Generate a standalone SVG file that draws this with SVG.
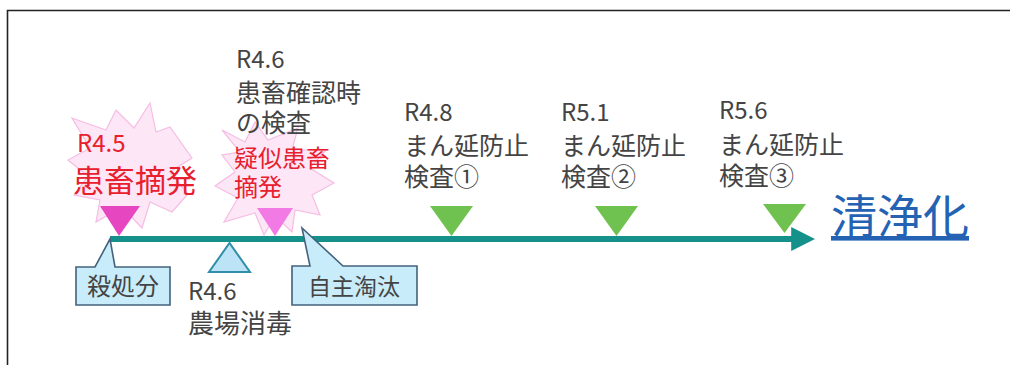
<svg xmlns="http://www.w3.org/2000/svg" width="1010" height="365" viewBox="0 0 1010 365">
<defs>
<style>
.t{font-family:"Noto Sans CJK JP","Noto Sans",sans-serif;fill:#444;font-size:25px}
.n{font-size:24px}
.r{fill:#e8202e}
.s23{font-size:23px}
.s24{font-size:24px}
.s26{font-size:26px}
.big{font-size:31px}
.star{fill:#fde6f6;stroke:#f5bde3;stroke-width:1.2}
.box{fill:#c9ecfa;stroke:#43627d;stroke-width:1.6}
.g{fill:#6fc24f}
.clean{font-size:46px;fill:#2463b4}
</style>
<marker id="ah" viewBox="0 0 10 10" refX="2" refY="5" markerWidth="4" markerHeight="4" orient="auto" markerUnits="strokeWidth"><path d="M0,0 L10,5 L0,10 Z" fill="#14918a"/></marker>
</defs>
<rect width="1010" height="365" fill="#fff"/>
<path d="M7.5,365 V10.5 H1010" fill="none" stroke="#222" stroke-width="1.6"/>
<g id="connectors">
<line x1="110" y1="239" x2="796" y2="239" stroke="#14918a" stroke-width="6" marker-end="url(#ah)"/>
</g>
<g id="burst1">
<polygon class="star" points="150,103 156,132 170,127 192,158 170,172 188,194 172,212 150,202 142,228 122,207 96,222 100,200 74,195 88,176 68,160 90,148 72,118 106,130 116,110 134,128"/>
<text class="t r n" x="77" y="152">R4.5</text>
<text class="t r big" x="73" y="192">患畜摘発</text>
<polygon points="100,206 140,206 119,236" fill="#e646bf"/>
</g>
<g id="burst2">
<polygon class="star" points="222,130 245,142 255,122 268,140 298,128 292,150 326,150 310,168 334,183 312,195 320,215 295,210 292,232 275,216 264,235 255,213 224,222 238,198 215,186 235,172 222,155 240,152"/>
<text class="t n" x="236" y="68">R4.6</text>
<text class="t" x="236" y="102">患畜確認時</text>
<text class="t" x="236" y="132">の検査</text>
<text class="t r s24" x="234" y="167">疑似患畜</text>
<text class="t r s24" x="234" y="196">摘発</text>
<polygon points="257,208 293,208 275,236" fill="#f27ae4"/>
</g>
<g id="kill">
<path class="box" d="M76,267 H95 L110,239 L115,267 H170 V305 H76 Z"/>
<text class="t s24" x="87" y="295">殺処分</text>
</g>
<g id="disinfect">
<polygon points="209,272 250,272 229.5,243" fill="#bde3f6" stroke="#2f8fa8" stroke-width="2"/>
<text class="t n" x="188" y="300">R4.6</text>
<text class="t s26" x="188" y="333">農場消毒</text>
</g>
<g id="cull">
<path class="box" d="M292,266 H310 L302,228 L343,266 H417 V305 H292 Z"/>
<text class="t s23" x="308" y="295">自主淘汰</text>
</g>
<g id="test1">
<text class="t n" x="404" y="121">R4.8</text>
<text class="t" x="404" y="155">まん延防止</text>
<text class="t" x="404" y="186">検査①</text>
<polygon class="g" points="430,206 473,206 451.5,236"/>
</g>
<g id="test2">
<text class="t n" x="561" y="121">R5.1</text>
<text class="t" x="561" y="155">まん延防止</text>
<text class="t" x="561" y="186">検査②</text>
<polygon class="g" points="595,206 638,206 616.5,236"/>
</g>
<g id="test3">
<text class="t n" x="719" y="119">R5.6</text>
<text class="t" x="719" y="154">まん延防止</text>
<text class="t" x="719" y="185">検査③</text>
<polygon class="g" points="763,204 806,204 784.5,233"/>
</g>
<g id="clean">
<text class="t clean" x="831" y="233" text-decoration="underline">清浄化</text>
</g>
</svg>
